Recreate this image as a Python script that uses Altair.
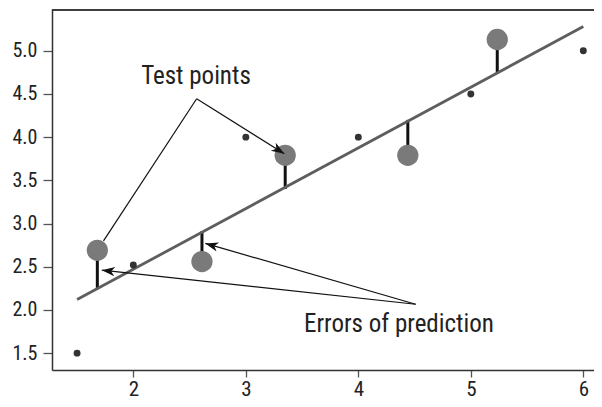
import math
import altair as alt
import pandas as pd

# ---- data ----
train_x = [1.5, 2.0, 3.0, 4.0, 5.0, 6.0]
train_y = [1.5, 2.52, 4.0, 4.0, 4.5, 5.0]

test_x = [1.68, 2.61, 3.35, 4.44, 5.235]
test_y = [2.69, 2.56, 3.79, 3.79, 5.13]
pred_y = [2.24, 2.91, 3.40, 4.20, 4.74]

line_x = [1.5, 6.0]
line_y = [2.12, 5.28]

ann_x1 = [2.563, 2.563, 4.51, 4.51]
ann_y1 = [4.444, 4.444, 2.066, 2.066]
ann_x2 = [1.735, 3.342, 1.72, 2.64]
ann_y2 = [2.80, 3.809, 2.46, 2.77]
ann_arrow = [False, True, True, True]

label_text = ["Test points", "Errors of prediction"]
label_x = [2.557, 4.361]
label_y = [4.612, 1.743]

x_ticks = [2, 3, 4, 5, 6]
y_ticks = [1.5, 2.0, 2.5, 3.0, 3.5, 4.0, 4.5, 5.0]

# ---- layout ----
XMIN, XMAX = 1.277, 6.095
YMIN, YMAX = 1.305, 5.483
W, H = 542, 361
FONT = "Liberation Sans Narrow, Roboto Condensed, DejaVu Sans Condensed, Arial Narrow, sans-serif"

sx = W / (XMAX - XMIN)
sy = H / (YMAX - YMIN)

train = pd.DataFrame({"x": train_x, "y": train_y})
test = pd.DataFrame({"x": test_x, "y": test_y, "p": pred_y})
fit = pd.DataFrame({"x": line_x, "y": line_y})
ann = pd.DataFrame({"x": ann_x1, "y": ann_y1, "x2": ann_x2, "y2": ann_y2, "arrow": ann_arrow})
heads = ann[ann["arrow"]].copy()
heads["angle"] = [
    math.degrees(math.atan2((r.x2 - r.x) * sx, (r.y2 - r.y) * sy)) % 360
    for r in heads.itertuples()
]
labels = pd.DataFrame({"t": label_text, "x": label_x, "y": label_y})

xscale = alt.Scale(domain=[XMIN, XMAX], nice=False, zero=False)
yscale = alt.Scale(domain=[YMIN, YMAX], nice=False, zero=False)
xaxis = alt.Axis(values=x_ticks, format="d", title=None, grid=False, tickSize=7,
                 labelFontSize=21, labelPadding=1, domainColor="#333", domainWidth=1.5,
                 tickColor="#555", tickWidth=1.3, labelColor="#222", labelFont=FONT)
yaxis = alt.Axis(values=y_ticks, format=".1f", title=None, grid=False, tickSize=9,
                 labelFontSize=20, labelPadding=6, domainColor="#333", domainWidth=1.5,
                 tickColor="#555", tickWidth=1.3, labelColor="#222", labelFont=FONT)


def X(f="x"):
    return alt.X(f"{f}:Q", scale=xscale, axis=xaxis)


def Y(f="y"):
    return alt.Y(f"{f}:Q", scale=yscale, axis=yaxis)


top_border = alt.Chart(fit).mark_rule(color="#333", strokeWidth=1.5).encode(
    x=alt.value(0), x2=alt.value(W), y=alt.value(1)
)

errors = alt.Chart(test).mark_rule(color="#111", strokeWidth=3).encode(
    x=X(), y=Y(), y2=alt.Y2("p:Q")
)

reg = alt.Chart(fit).mark_line(color="#5e5e5e", strokeWidth=2.8).encode(x=X(), y=Y())

train_pts = alt.Chart(train).mark_circle(color="#333", size=48, opacity=1).encode(x=X(), y=Y())

test_pts = alt.Chart(test).mark_circle(color="#7a7a7a", size=452, opacity=1).encode(x=X(), y=Y())

ann_lines = alt.Chart(ann).mark_rule(color="#111", strokeWidth=1.2).encode(
    x=X(), y=Y(), x2=alt.X2("x2:Q"), y2=alt.Y2("y2:Q")
)

ARROW = "M0,0 L0.36,1 L0,0.72 L-0.36,1 Z"
ann_heads = alt.Chart(heads).mark_point(
    shape=ARROW, filled=True, size=676, color="#111", opacity=1, strokeWidth=0
).encode(x=X("x2"), y=Y("y2"), angle=alt.Angle("angle:Q", scale=None))

ann_text = alt.Chart(labels).mark_text(
    font=FONT, fontSize=25, color="#222", align="center", baseline="alphabetic"
).encode(x=X(), y=Y(), text="t:N")

chart = (
    alt.layer(errors, reg, train_pts, test_pts, ann_lines, ann_heads, ann_text, top_border)
    .properties(
        width=W,
        height=H,
        padding={"left": 44, "top": 1, "right": 0, "bottom": 29},
        autosize=alt.AutoSizeParams(type="none"),
    )
    .configure_view(stroke=None)
    .configure(background="white")
)

chart.save("out.html", embed_options={"renderer": "svg", "actions": False})
